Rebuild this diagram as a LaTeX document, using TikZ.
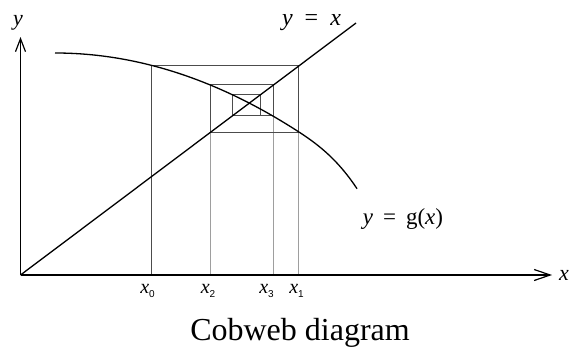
\documentclass[tikz,border=0pt]{standalone}
\usepackage{fontspec}
\setmainfont{Liberation Serif}
\setsansfont{Liberation Sans}
\usetikzlibrary{arrows.meta}
\newcommand{\xlab}[1]{\textit{x}\raisebox{-4pt}{\fontsize{10}{10}\sffamily #1}}
\begin{document}
\begin{tikzpicture}[x=1pt,y=-1pt,
  axis/.style={line width=1.2pt},
  curveline/.style={line width=1.3pt},
  boxline/.style={line width=0.9pt, draw=black!70},
  guide/.style={line width=0.6pt, draw=black!38},
  lbl/.style={anchor=base, inner sep=0pt, font=\fontsize{22}{22}\selectfont},
  sublbl/.style={anchor=base, inner sep=0pt, font=\fontsize{20}{20}\selectfont},
  ]
\useasboundingbox (0,0) rectangle (575,351);
\coordinate (O) at (20.5,275);
\coordinate (YT) at (20.5,37);
\coordinate (XT) at (552,275);
\coordinate (DE) at (356,23);
% cobweb points
\coordinate (A0) at (151.7,275);
\coordinate (P0) at (151.7,65.9);
\coordinate (P1) at (298.5,65.9);
\coordinate (Q1) at (298.5,132);
\coordinate (Q2) at (210.7,132);
\coordinate (P2) at (210.7,84.9);
\coordinate (P3) at (273.3,84.9);
\coordinate (Q3) at (273.3,115.7);
\coordinate (Q4) at (232.3,115.7);
\coordinate (P4) at (232.3,94.4);
\coordinate (P5) at (260.7,94.4);
\coordinate (Q5) at (260.7,115.7);
% guides to the axis
\draw[guide] (Q1) -- (Q1 |- O);
\draw[guide] (Q2) -- (Q2 |- O);
\draw[guide] (Q3) -- (Q3 |- O);
% cobweb
\draw[boxline] (A0) -- (P0) -- (P1) -- (Q1) -- (Q2) -- (P2) -- (P3) -- (Q3) -- (Q4) -- (P4) -- (P5) -- (Q5);
% curve g
\draw[curveline] plot[domain=55:357, samples=120, smooth, variable=\t]
  ({\t}, {53 + 0.00132*(\t-55)*(\t-55) + 14.6*pow(max(0,(\t-295)/62),3)});
% y = x
\draw[curveline] (O) -- (DE);
% axes
\draw[axis, -{Straight Barb[length=13pt,width=10pt]}] (O) -- (YT);
\draw[axis, -{Straight Barb[length=16pt,width=11pt]}] (O) -- (XT);
% labels
\node[lbl] (ly) at (18,25) {\textit{y}};
\node[lbl] (lx) at (564,280) {\textit{x}};
\node[lbl, font=\fontsize{24}{24}\selectfont] (lyx) at (311.5,25) {\textit{y}\hspace{12pt}=\hspace{12pt}\textit{x}};
\node[lbl, font=\fontsize{23}{23}\selectfont] (lyg) at (403,224) {\textit{y}\hspace{10pt}=\hspace{10pt}g(\textit{x})};
\node[sublbl] (l0) at (147.5,293) {\xlab{0}};
\node[sublbl] (l2) at (208,293) {\xlab{2}};
\node[sublbl] (l3) at (266.5,293) {\xlab{3}};
\node[sublbl] (l1) at (296.5,293) {\xlab{1}};
\node[anchor=base, inner sep=0pt, font=\fontsize{32}{32}\selectfont] (cap) at (300,340) {Cobweb diagram};
\end{tikzpicture}
\end{document}
